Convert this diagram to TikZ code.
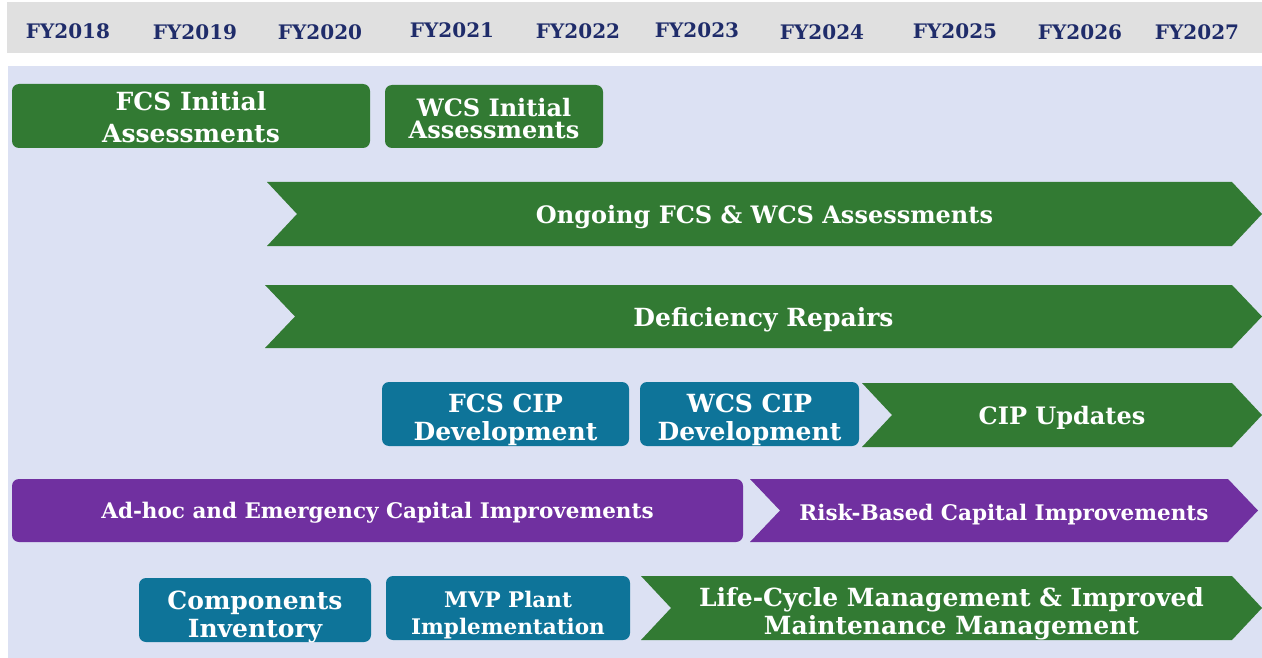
\documentclass[tikz,border=0pt]{standalone}
\usepackage{fontspec}
\setmainfont{DejaVu Serif}
\definecolor{hdrgray}{HTML}{E0E0E0}
\definecolor{panelbg}{HTML}{DCE1F3}
\definecolor{boxgreen}{HTML}{327A33}
\definecolor{boxteal}{HTML}{0E7499}
\definecolor{boxpurple}{HTML}{7030A0}
\definecolor{yearnavy}{HTML}{1F2C6A}
\tikzset{
  yearlbl/.style={text=yearnavy, font=\bfseries\fontsize{20}{22}\selectfont, inner sep=0pt},
  rbox/.style={rounded corners=7pt, inner sep=0pt},
  lbl/.style={text=white, align=center, inner sep=0pt,
    font=\bfseries\fontsize{25}{28}\selectfont},
  small/.style={font=\bfseries\fontsize{21.5}{27}\selectfont},
}
% chevron: name, x1, x2, y1, y2, colour
\newcommand\chev[6]{%
  \fill[#6] (#2,#4) -- ({#3-30},#4) -- (#3,{(#4+#5)/2}) -- ({#3-30},#5) -- (#2,#5) -- ({#2+30},{(#4+#5)/2}) -- cycle;
  \coordinate (#1) at ({(#2+#3)/2},{(#4+#5)/2});}
\begin{document}
\begin{tikzpicture}[x=1pt,y=-1pt]
\useasboundingbox (0,0) rectangle (1262,658);
% header band
\fill[hdrgray] (7,2) rectangle (1262,53);
\node[yearlbl] (y18) at (68,31) {FY2018};
\node[yearlbl] (y19) at (195,32) {FY2019};
\node[yearlbl] (y20) at (320,32) {FY2020};
\node[yearlbl] (y21) at (452,30) {FY2021};
\node[yearlbl] (y22) at (578,31) {FY2022};
\node[yearlbl] (y23) at (697,30) {FY2023};
\node[yearlbl] (y24) at (822,32) {FY2024};
\node[yearlbl] (y25) at (955,31) {FY2025};
\node[yearlbl] (y26) at (1080,32) {FY2026};
\node[yearlbl] (y27) at (1197,32) {FY2027};
% panel
\fill[panelbg] (8,66) rectangle (1262,658);
% row 1
\node[rbox, fill=boxgreen, minimum width=358, minimum height=64] (fcsinit) at (191,116) {};
\node[lbl, font=\bfseries\fontsize{25}{32}\selectfont] (fcsinit-t) at ([yshift=-1pt]fcsinit.center) {FCS Initial\\Assessments};
\node[rbox, fill=boxgreen, minimum width=218, minimum height=63] (wcsinit) at (494,116.5) {};
\node[lbl, font=\bfseries\fontsize{24}{22}\selectfont] (wcsinit-t) at ([yshift=-2pt]wcsinit.center) {WCS Initial\\Assessments};
% row 2, 3
\chev{ongoing}{267}{1262}{182}{246}{boxgreen}
\node[lbl, font=\bfseries\fontsize{24}{28}\selectfont] (ongoing-t) at ([yshift=-3pt]ongoing) {Ongoing FCS \& WCS Assessments};
\chev{defic}{265}{1262}{285}{348}{boxgreen}
\node[lbl] (defic-t) at ([yshift=-3pt]defic) {Deficiency Repairs};
% row 4
\node[rbox, fill=boxteal, minimum width=247, minimum height=64] (fcscip) at (505.5,414) {};
\node[lbl] (fcscip-t) at ([yshift=-6pt]fcscip.center) {FCS CIP\\Development};
\node[rbox, fill=boxteal, minimum width=219, minimum height=64] (wcscip) at (749.5,414) {};
\node[lbl] (wcscip-t) at ([yshift=-6pt]wcscip.center) {WCS CIP\\Development};
\chev{cipupd}{862}{1262}{383}{447}{boxgreen}
\node[lbl, font=\bfseries\fontsize{24}{28}\selectfont] (cipupd-t) at ([yshift=-3pt]cipupd) {CIP Updates};
% row 5
\node[rbox, fill=boxpurple, minimum width=731, minimum height=63] (adhoc) at (377.5,510.5) {};
\node[lbl, small] (adhoc-t) at ([yshift=-2pt]adhoc.center) {Ad-hoc and Emergency Capital Improvements};
\chev{riskbased}{750}{1258}{479}{542}{boxpurple}
\node[lbl, small] (riskbased-t) at ([yshift=-4pt]riskbased) {Risk-Based Capital Improvements};
% row 6
\node[rbox, fill=boxteal, minimum width=232, minimum height=64] (compinv) at (255,610) {};
\node[lbl] (compinv-t) at ([yshift=-7pt]compinv.center) {Components\\Inventory};
\node[rbox, fill=boxteal, minimum width=244, minimum height=64] (mvp) at (508,608) {};
\node[lbl, small] (mvp-t) at ([yshift=-7pt]mvp.center) {MVP Plant\\Implementation};
\chev{lifecycle}{641}{1262}{576}{640}{boxgreen}
\node[lbl] (lifecycle-t) at ([yshift=-6pt]lifecycle) {Life-Cycle Management \& Improved\\Maintenance Management};
\end{tikzpicture}
\end{document}
